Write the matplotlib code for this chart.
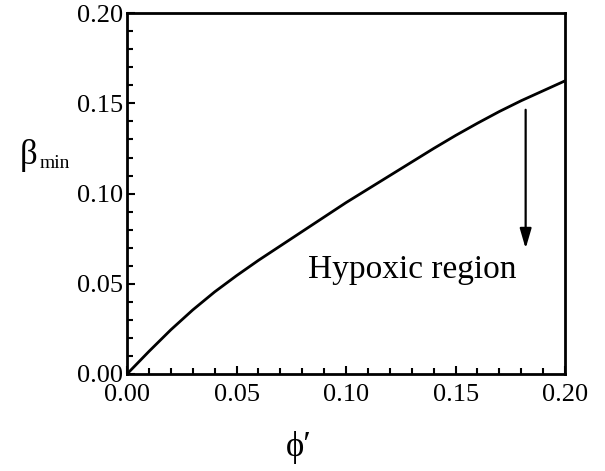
import matplotlib.pyplot as plt
from matplotlib.ticker import MultipleLocator

plt.rcParams.update({
    "font.family": ["Liberation Serif", "DejaVu Serif"],
})

# curve
phi = [0.00, 0.01, 0.02, 0.03, 0.04, 0.05, 0.06, 0.07, 0.08, 0.09, 0.10,
       0.11, 0.12, 0.13, 0.14, 0.15, 0.16, 0.17, 0.18, 0.19, 0.20]
beta_min = [0.0, 0.0125, 0.0245, 0.0355, 0.0455, 0.0545, 0.063, 0.071, 0.079,
            0.087, 0.095, 0.1025, 0.110, 0.1175, 0.125, 0.1322, 0.139, 0.1455,
            0.1515, 0.157, 0.1625]

arrow_x = 0.182
arrow_from = 0.148
arrow_to = 0.068

fig = plt.figure(figsize=(6.05, 4.71), dpi=100)
ax = fig.add_axes([0.21, 0.206, 0.724, 0.766])

ax.plot(phi, beta_min, color="black", lw=2.0)
ax.annotate("", xy=(arrow_x, arrow_to), xytext=(arrow_x, arrow_from),
            arrowprops=dict(arrowstyle="-|>,head_length=1.2,head_width=0.35",
                            color="black", lw=1.6))
ax.text(0.130, 0.058, "Hypoxic region", fontsize=24, ha="center", va="center")

ax.set_xlim(0, 0.20)
ax.set_ylim(0, 0.20)
ax.xaxis.set_major_locator(MultipleLocator(0.05))
ax.xaxis.set_minor_locator(MultipleLocator(0.01))
ax.yaxis.set_major_locator(MultipleLocator(0.05))
ax.yaxis.set_minor_locator(MultipleLocator(0.01))
ax.xaxis.set_major_formatter(lambda v, p: f"{v:.2f}")
ax.yaxis.set_major_formatter(lambda v, p: f"{v:.2f}")
ax.tick_params(which="both", direction="in", top=False, right=False, width=1.5)
ax.tick_params(which="major", length=6, labelsize=19)
ax.tick_params(axis="y", which="major", pad=3)
ax.tick_params(axis="x", which="major", pad=7)
ax.tick_params(which="minor", length=4)
for s in ax.spines.values():
    s.set_linewidth(2.0)

fig.text(0.033, 0.67, "β", fontsize=25, ha="left", va="center")
fig.text(0.066, 0.652, "min", fontsize=14, ha="left", va="center")
fig.text(0.494, 0.05, "ϕ′", fontsize=25, ha="center", va="center")

fig.savefig("out.png", dpi=100, facecolor="white")
